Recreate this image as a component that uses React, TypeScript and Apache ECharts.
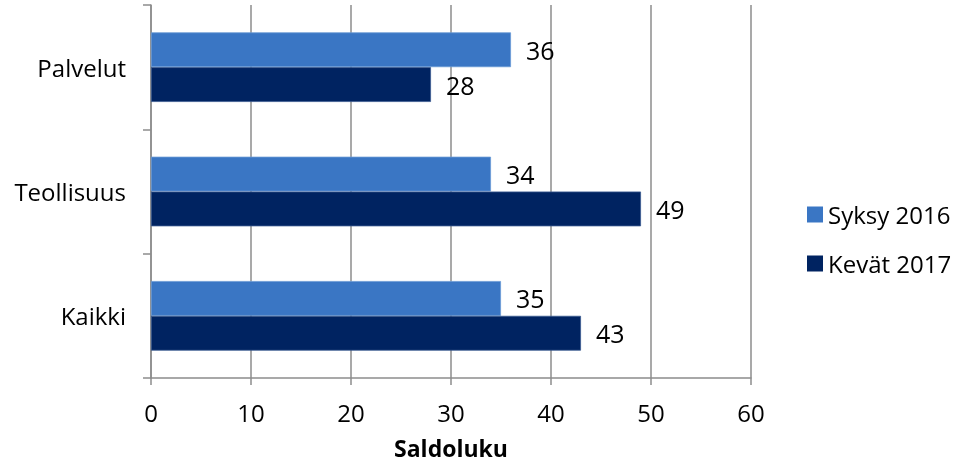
import React, { useEffect, useRef } from "react";
import * as echarts from "echarts";

const categories = ["Kaikki", "Teollisuus", "Palvelut"];
const syksy2016 = [35, 34, 36];
const kevat2017 = [43, 49, 28];
const seriesNames = ["Syksy 2016", "Kevät 2017"];
const xTicks = { min: 0, max: 60, interval: 10 };

const FONT = "'Open Sans', sans-serif";

export default function App() {
  const ref = useRef<HTMLDivElement>(null);
  useEffect(() => {
    if (!ref.current) return;
    const chart = echarts.init(ref.current, undefined, { renderer: "svg" });
    const label = {
      show: true,
      position: "right",
      distance: 15,
      color: "#000",
      fontSize: 25,
      fontFamily: FONT,
    };
    chart.setOption({
      animation: false,
      textStyle: { fontFamily: FONT },
      grid: {
        left: 151,
        right: 223,
        top: 5,
        bottom: 88,
        containLabel: false,
        outerBoundsMode: "none",
      },
      legend: {
        orient: "vertical",
        left: 807,
        top: 202,
        padding: 0,
        itemGap: 24,
        itemWidth: 16,
        itemHeight: 16,
        icon: "rect",
        itemStyle: { borderWidth: 0 },
        textStyle: { fontSize: 24, lineHeight: 25, fontFamily: FONT, color: "#000" },
        data: seriesNames,
      },
      xAxis: {
        type: "value",
        min: xTicks.min,
        max: xTicks.max,
        interval: xTicks.interval,
        name: "Saldoluku",
        nameLocation: "middle",
        nameGap: 59,
        nameTextStyle: {
          fontSize: 23,
          lineHeight: 22,
          fontWeight: "bold",
          color: "#000",
          fontFamily: FONT,
        },
        axisLine: { show: true, lineStyle: { color: "#8c8c8c", width: 1.5 } },
        axisTick: { show: true, length: 7, lineStyle: { color: "#8c8c8c", width: 1.5 } },
        axisLabel: { fontSize: 24, color: "#000", margin: 22, fontFamily: FONT },
        splitLine: { show: true, lineStyle: { color: "#8c8c8c", width: 1.5 } },
      },
      yAxis: {
        type: "category",
        data: categories,
        axisLine: { show: true, lineStyle: { color: "#8c8c8c", width: 1.5 } },
        axisTick: { show: true, length: 8, alignWithLabel: false, lineStyle: { color: "#8c8c8c", width: 1.5 } },
        axisLabel: { fontSize: 24, color: "#000", margin: 25, fontFamily: FONT },
        splitLine: { show: false },
      },
      series: [
        {
          name: seriesNames[0],
          type: "bar",
          data: syksy2016,
          barGap: "0%",
          barCategoryGap: "44%",
          itemStyle: { color: "#3a76c4", borderColor: "#6a9ad6", borderWidth: 0.8 },
          label,
        },
        {
          name: seriesNames[1],
          type: "bar",
          data: kevat2017,
          barGap: "0%",
          barCategoryGap: "44%",
          itemStyle: { color: "#002361", borderColor: "#3a5a90", borderWidth: 0.8 },
          label,
        },
      ],
    });
    return () => chart.dispose();
  }, []);
  return (
    <div
      ref={ref}
      style={{ position: "fixed", left: 0, top: 0, width: 974, height: 466 }}
    />
  );
}
